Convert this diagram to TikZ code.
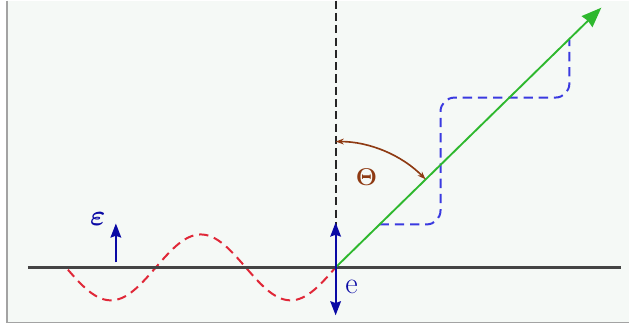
\documentclass[tikz,border=0pt]{standalone}
\usepackage{bm}
\usepackage{xcolor}
\definecolor{Paper}{HTML}{F5F9F6}
\definecolor{Frame}{HTML}{A3A3A3}
\definecolor{Surface}{HTML}{444444}
\definecolor{Ray}{HTML}{2EB82E}
\definecolor{Navy}{HTML}{0A0AA5}
\definecolor{Incident}{HTML}{E02838}
\definecolor{Scattered}{HTML}{3A3AE0}
\definecolor{Angle}{HTML}{8E3A12}
\usepackage{tikz}
\usetikzlibrary{positioning,arrows.meta}

\begin{document}
\begin{tikzpicture}[
  x=0.03cm, y=0.03cm,
  surf/.style={draw=Surface, line width=2pt},
  normal/.style={dash pattern=on 7pt off 3.5pt, line width=1.7pt, black!85},
  ray/.style={-{Stealth[length=17pt,width=13pt,inset=1pt]}, draw=Ray, line width=1.6pt},
  pol/.style={{Stealth[length=12pt,width=9pt,inset=1.5pt]}-{Stealth[length=12pt,width=9pt,inset=1.5pt]}, draw=Navy, line width=1.9pt},
  polone/.style={-{Stealth[length=12pt,width=9pt,inset=1.5pt]}, draw=Navy, line width=1.9pt},
  wave/.style={dash pattern=on 8pt off 5pt, line width=1.7pt},
  angarr/.style={{Stealth[length=7pt,width=5pt]}-{Stealth[length=7pt,width=5pt]}, draw=Angle, line width=1.4pt},
  lbl/.style={inner sep=0pt}
]

% background and frame
\fill[white] (-336,-60) rectangle (294,267);
\fill[Paper] (-329,-55) rectangle (294,267);
\draw[Frame, line width=1.2pt] (-329,267) -- (-329,-55) -- (294,-55);
\useasboundingbox (-336,-60) rectangle (294,267);

\coordinate (o) at (0,0);
\coordinate (top) at (0,267);
\coordinate (left) at (-308,0);
\coordinate (right) at (286,0);
\coordinate (tip) at (266,260);
\coordinate (up) at (0,45);
\coordinate (down) at (0,-48);
\coordinate (efoot) at (-220,5);
\coordinate (ehead) at (-220,44);

% incoming wave
\draw[wave, Incident] plot[domain=-268:0, samples=90] (\x, {-33*sin(2*(\x+270))});

% surface and normal
\draw[normal] (top) -- (o);
\draw[surf] (left) -- (right);

% scattered wave
\draw[wave, Scattered, rounded corners=0.42cm]
  (44,43) -- (105,43) -- (105,170) -- (234,170) -- (234,228);
\draw[ray] (o) -- (tip);

% polarisation
\draw[pol] (down) -- (up);
\draw[polone] (efoot) -- (ehead);

% angle
\draw[angarr] (90:126) arc[start angle=90, end angle=44.4, radius=126];

\node[lbl, text=Angle, font=\fontsize{20}{20}\selectfont] (theta) at (31,90) {$\mathbf{\Theta}$};
\node[lbl, text=Navy, font=\fontsize{26}{26}\selectfont] (elbl) at (16,-20) {e};
\node[lbl, text=Navy, font=\fontsize{25}{25}\selectfont] (epslbl) at (-238,48) {$\bm{\varepsilon}$};

\end{tikzpicture}
\end{document}
